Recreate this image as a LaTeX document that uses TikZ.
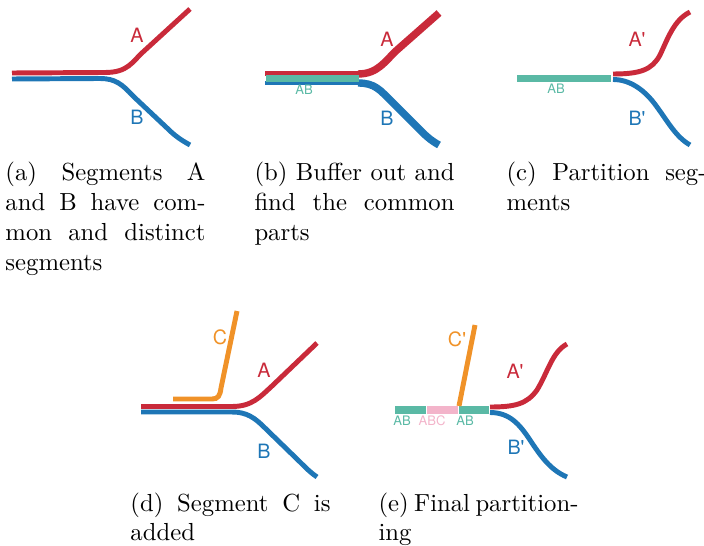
\documentclass[tikz,border=0pt]{standalone}
\usepackage{fontspec}
\usepackage{xcolor}
\usepackage{tikz}
\usetikzlibrary{positioning}

\newfontfamily\labelfont{TeX Gyre Heros}
\definecolor{segred}{RGB}{201,42,58}
\definecolor{segblue}{RGB}{30,118,182}
\definecolor{segteal}{RGB}{90,185,165}
\definecolor{segpink}{RGB}{243,180,202}
\definecolor{segorange}{RGB}{240,146,40}
% one justified caption line
\newcommand\capline[1]{\leavevmode\hbox to 81pt{\spaceskip=3.33pt plus 20pt minus 1.2pt\relax #1}}

\begin{document}
\begin{tikzpicture}[
  x=0.405pt, y=-0.405pt,
  seg/.style={line width=2pt},
  wideseg/.style={line width=3pt},
  bar/.style={line width=2.85pt},
  lbl/.style={font=\labelfont\fontsize{8}{9}\selectfont, inner sep=0pt},
  sublbl/.style={font=\labelfont\fontsize{5.3}{6}\selectfont, inner sep=0pt},
  captext/.style={anchor=base west, text width=81pt, inner sep=0pt,
              font=\fontsize{10}{12.1}\selectfont},
]
  \useasboundingbox (0,0) rectangle (704,546);

  % (a) segments A and B
  \draw[seg, segred] (12,73) -- (105,72.5) .. controls (128,72.5) and (132,62) .. (143,52) -- (190,9);
  \draw[seg, segblue] (12,79) -- (100,78.5) .. controls (115,78.5) and (122,84) .. (133,96)
    -- (167,128) .. controls (175,136) and (181,140) .. (190,145);
  \node[lbl, text=segred] (a-A) at (137,35) {A};
  \node[lbl, text=segblue] (a-B) at (137,117) {B};

  % (b) buffer out
  \draw[seg, segred] (265,73.5) -- (360,73.5);
  \draw[seg, segblue] (265,83) -- (360,83);
  \draw[wideseg, segred] (358,74) .. controls (378,74) and (385,61) .. (397,50) -- (439,13);
  \draw[wideseg, segblue] (358,83) .. controls (375,83) and (380,90) .. (392,102)
    -- (418,128) .. controls (425,135) and (430,140) .. (439,145);
  \fill[segteal] (266,75.5) rectangle (359,82.5);
  \node[sublbl, text=segteal] (b-AB) at (304,90) {AB};
  \node[lbl, text=segred] (b-A) at (387,39) {A};
  \node[lbl, text=segblue] (b-B) at (387,118) {B};

  % (c) partition
  \draw[bar, segteal] (517,78.5) -- (611,78.5);
  \draw[seg, segred] (613,74) .. controls (640,74) and (652,70) .. (660,55)
    .. controls (668,38) and (674,20) .. (690,12);
  \draw[seg, segblue] (613,79.5) .. controls (630,79.5) and (645,90) .. (657,107)
    .. controls (668,122) and (676,137) .. (690,145);
  \node[sublbl, text=segteal] (c-AB) at (556,89) {AB};
  \node[lbl, text=segred] (c-A) at (637,39) {A'};
  \node[lbl, text=segblue] (c-B) at (637,118) {B'};

  % (d) segment C added
  \draw[seg, segorange] (173,399) -- (212,399) .. controls (218,399) and (220,396) .. (221,388) -- (237,311);
  \draw[seg, segred] (141,406.5) -- (232,406.5) .. controls (252,406.5) and (260,397) .. (272,386) -- (317,343);
  \draw[seg, segblue] (141,412) -- (232,412) .. controls (247,412) and (255,418) .. (265,428)
    -- (300,462) .. controls (306,468) and (311,473) .. (317,477);
  \node[lbl, text=segorange] (d-C) at (220,337) {C};
  \node[lbl, text=segred] (d-A) at (264,370) {A};
  \node[lbl, text=segblue] (d-B) at (264,451) {B};

  % (e) final partitioning
  \draw[bar, segteal] (395,410) -- (426,410);
  \draw[bar, segpink] (427,410) -- (458,410);
  \draw[bar, segteal] (459,410) -- (489,410);
  \draw[seg, segorange] (459,406) -- (475,325);
  \draw[seg, segred] (490,407) .. controls (515,407) and (527,404) .. (537,390)
    .. controls (548,372) and (552,352) .. (567,344);
  \draw[seg, segblue] (490,412.5) .. controls (510,412.5) and (520,425) .. (530,440)
    .. controls (540,455) and (550,470) .. (567,477);
  \node[sublbl, text=segteal] (e-AB1) at (402,421) {AB};
  \node[sublbl, text=segpink] (e-ABC) at (432,421) {ABC};
  \node[sublbl, text=segteal] (e-AB2) at (465,421) {AB};
  \node[lbl, text=segorange] (e-C) at (457,339) {C'};
  \node[lbl, text=segred] (e-A) at (515,371) {A'};
  \node[lbl, text=segblue] (e-B) at (516,447) {B'};

  % captions
  \node[captext] (cap-a) at (5,181) {\capline{(a) Segments A}\\\capline{and B have com-}\\
    \capline{mon and distinct}\\segments};
  \node[captext] (cap-b) at (254,181) {\capline{(b) Buffer out and}\\\capline{find the common}\\parts};
  \node[captext] (cap-c) at (506,181) {\capline{(c) Partition seg-}\\ments};
  \node[captext] (cap-d) at (130,511) {\capline{(d) Segment C is}\\added};
  \node[captext] (cap-e) at (378,511) {\capline{(e) Final partition-}\\ing};
\end{tikzpicture}
\end{document}
